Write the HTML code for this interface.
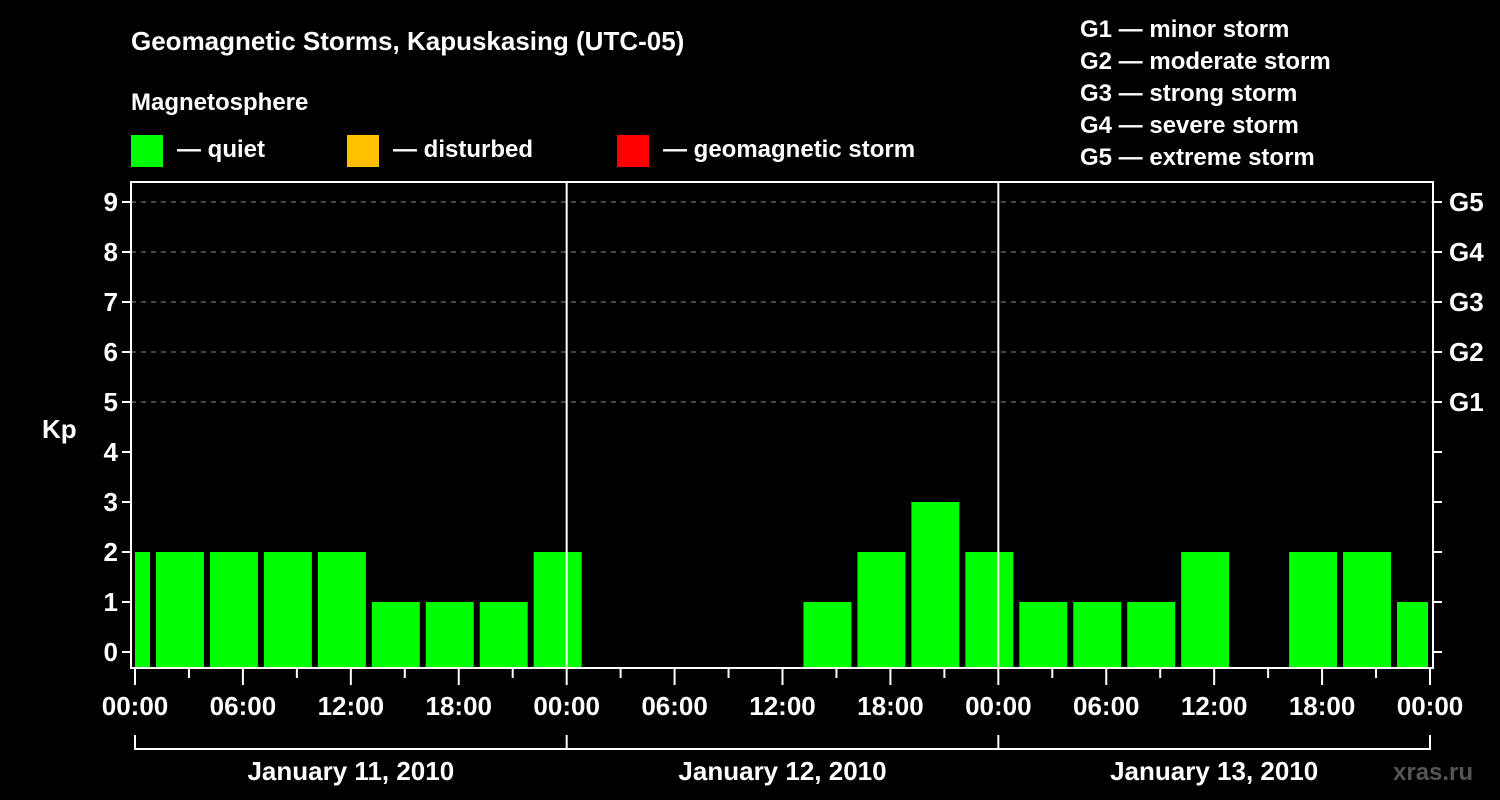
<!DOCTYPE html>
<html><head><meta charset="utf-8"><style>
body{margin:0;background:#000;}
svg{display:block;font-family:"Liberation Sans",sans-serif;font-weight:bold;}
</style></head><body>
<svg id="c" width="1500" height="800">
<rect width="1500" height="800" fill="#000"/>
<text x="131" y="50" fill="#fff" font-size="26">Geomagnetic Storms, Kapuskasing (UTC-05)</text>
<text x="131" y="110" fill="#fff" font-size="24">Magnetosphere</text>
<g><rect x="131" y="135" width="32" height="32" fill="#00ff00"/><text x="177" y="157" fill="#fff" font-size="24">— quiet</text></g>
<g><rect x="347" y="135" width="32" height="32" fill="#ffc000"/><text x="393" y="157" fill="#fff" font-size="24">— disturbed</text></g>
<g><rect x="617" y="135" width="32" height="32" fill="#ff0000"/><text x="663" y="157" fill="#fff" font-size="24">— geomagnetic storm</text></g>
<g fill="#fff" font-size="24">
<text x="1080" y="37">G1 — minor storm</text>
<text x="1080" y="69">G2 — moderate storm</text>
<text x="1080" y="101">G3 — strong storm</text>
<text x="1080" y="133">G4 — severe storm</text>
<text x="1080" y="165">G5 — extreme storm</text>
</g>
<text x="42" y="438" fill="#fff" font-size="26">Kp</text>
<text x="1393" y="780" fill="#555" font-size="24">xras.ru</text>
</svg>
<script>
const kpValues=[2,2,2,2,2,1,1,1,2,null,null,null,null,1,2,3,2,1,1,1,2,null,2,2,1];
const binStartHours=[-2,1,4,7,10,13,16,19,22,25,28,31,34,37,40,43,46,49,52,55,58,61,64,67,70];
const yTicks=[0,1,2,3,4,5,6,7,8,9];
const gLabels=["G1","G2","G3","G4","G5"];
const gLevels=[5,6,7,8,9];
const dayLabels=["January 11, 2010","January 12, 2010","January 13, 2010"];
const hourLabels=["00:00","06:00","12:00","18:00"];
const svg=document.getElementById('c');
const NS="http://www.w3.org/2000/svg";
const X0=135,X1=1430,H=72,FL=131,FR=1433,FT=182,FB=668;
const xs=h=>X0+(X1-X0)*h/H;
const ys=v=>652-50*v;
function mk(t,a){const e=document.createElementNS(NS,t);for(const k in a)e.setAttribute(k,a[k]);svg.appendChild(e);return e;}
// grid
yTicks.forEach(v=>{
 if(v>=5){const g=mk('line',{x1:FL,x2:FR,y1:ys(v),y2:ys(v),stroke:'#888','stroke-dasharray':'5,5','stroke-width':1});
 
 }
 const t=mk('line',{x1:FL-9,x2:FL,y1:ys(v),y2:ys(v),stroke:'#fff','stroke-width':2});
 
 
 const r=mk('line',{x1:FR,x2:FR+9,y1:ys(v),y2:ys(v),stroke:'#fff','stroke-width':2});
 
 
 const l=mk('text',{x:FL-13,y:ys(v)+9,fill:'#fff','font-size':26,'text-anchor':'end'});l.textContent=v;
 
 
});
gLabels.forEach((g,i)=>{
 const l=mk('text',{x:1449,y:ys(gLevels[i])+9,fill:'#fff','font-size':26});l.textContent=g;
 
 
});
// bars
kpValues.forEach((v,i)=>{
 if(v===null)return;
 let a=Math.max(xs(binStartHours[i])+3,X0),b=Math.min(xs(binStartHours[i]+3)-3,X1-2);
 const r=mk('rect',{x:a,y:ys(v),width:b-a,height:FB-ys(v),fill:'#00ff00'});
 
 
});
// day separators
[24,48].forEach(h=>{
 const l=mk('line',{x1:xs(h),x2:xs(h),y1:FT,y2:FB,stroke:'#fff','stroke-width':2});
 
 
});
// frame
const f=mk('rect',{x:FL,y:FT,width:FR-FL,height:FB-FT,fill:'none',stroke:'#fff','stroke-width':2});


// x ticks
for(let h=0;h<=H;h+=3){
 const major=h%6===0;
 const t=mk('line',{x1:xs(h),x2:xs(h),y1:FB,y2:FB+(major?17:10),stroke:'#fff','stroke-width':2});
 
 
 if(major){const l=mk('text',{x:xs(h),y:715,fill:'#fff','font-size':26,'text-anchor':'middle'});l.textContent=hourLabels[(h%24)/6];
 
 }
}
// day bracket
const br=mk('line',{x1:xs(0),x2:xs(72),y1:749,y2:749,stroke:'#fff','stroke-width':2});


[0,24,48,72].forEach(h=>{
 const t=mk('line',{x1:xs(h),x2:xs(h),y1:735,y2:750,stroke:'#fff','stroke-width':2});
 
 
});
dayLabels.forEach((d,i)=>{
 const l=mk('text',{x:xs(24*i+12),y:780,fill:'#fff','font-size':26,'text-anchor':'middle'});l.textContent=d;
 
 
});
</script>
</body></html>
